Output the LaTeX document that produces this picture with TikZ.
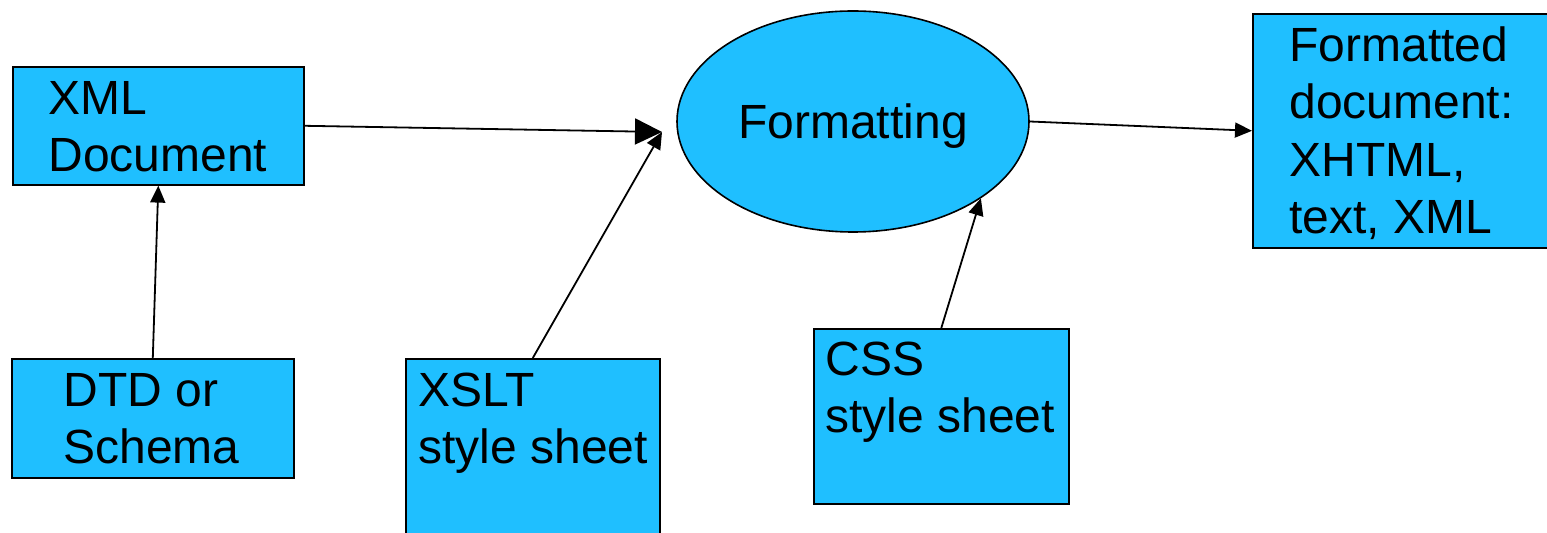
\documentclass[tikz,border=0pt]{standalone}
\usepackage{fontspec}
\setmainfont{Liberation Sans}
\usetikzlibrary{arrows.meta, shapes.geometric}
\definecolor{boxblue}{HTML}{1FBFFF}
\tikzset{
  box/.style={draw=black, line width=0.8pt, fill=boxblue, rectangle,
    inner sep=0pt, anchor=north west},
  oval/.style={draw=black, line width=0.8pt, fill=boxblue, ellipse,
    inner sep=0pt, minimum width=176pt, minimum height=110.5pt,
    font=\fontsize{24}{28.75}\selectfont, text depth=0pt},
  % anchored at the baseline of the last line
  lbl/.style={inner sep=0pt, anchor=base west, align=left,
    font=\fontsize{24}{28.75}\selectfont},
  conn/.style={line width=0.9pt, draw=black},
  bighead/.style={conn, -{Triangle[length=13.5pt, width=13pt]}},
  smallhead/.style={conn, -{Triangle[length=8.5pt, width=7.5pt]}}
}
\begin{document}
\begin{tikzpicture}[x=0.5pt, y=-0.5pt]
  \useasboundingbox (0,0) rectangle (1547,533);
  \clip (0,0) rectangle (1547,533);

  % boxes
  \node[box, minimum width=145.5pt, minimum height=59pt] (xml) at (12,66) {};
  \node[box, minimum width=141pt, minimum height=59.5pt] (dtd) at (11,358) {};
  \node[box, minimum width=127pt, minimum height=100pt] (xslt) at (405,358) {};
  \node[box, minimum width=127.5pt, minimum height=87.5pt] (css) at (813,328) {};
  \node[box, minimum width=174pt, minimum height=117pt] (res) at (1252,13) {};

  % central process
  \node[oval] (fmt) at (853,121.5) {Formatting};

  % box texts
  \node[lbl] (xmltext) at (48,172) {XML\\Document};
  \node[lbl] (dtdtext) at (63,464) {DTD or\\Schema};
  \node[lbl] (xslttext) at (418,464) {XSLT\\style sheet};
  \node[lbl] (csstext) at (825,433) {CSS\\style sheet};
  \node[lbl] (restext) at (1289,234) {Formatted\\document:\\XHTML,\\text, XML};

  % shared arrow tip left of the ellipse
  \coordinate (meet) at (662,132);

  % connectors
  \draw[bighead] (xml.east) -- (meet);
  \draw[smallhead] (xslt.north) -- (meet);
  \draw[smallhead] (dtd.north) -- (xml.south);
  \draw[smallhead] (css.north) -- (fmt.-31.9);
  \draw[smallhead] (fmt.east) -- (res.west);
\end{tikzpicture}
\end{document}
